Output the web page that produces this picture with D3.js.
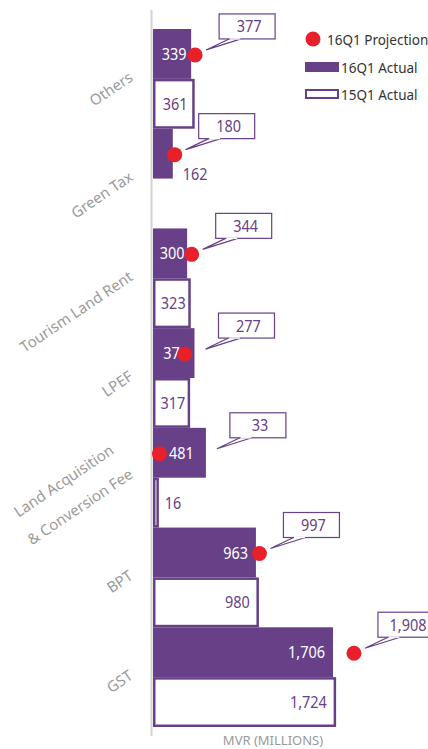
<!DOCTYPE html>
<html>
<head>
<meta charset="utf-8">
<script src="https://cdn.jsdelivr.net/npm/d3@7"></script>
<style>
  html, body { margin: 0; padding: 0; background: #fff; }
  svg { display: block; font-family: "Noto Sans", "Open Sans", sans-serif; }
</style>
</head>
<body>
<svg id="chart" width="428" height="749"></svg>
<script>
// ---- data ----
const categories = ["Others", "Green Tax", "Tourism Land Rent", "LPEF", "Land Acquisition & Conversion Fee", "BPT", "GST"];
const categoryLines = [["Others"], ["Green Tax"], ["Tourism Land Rent"], ["LPEF"], ["Land Acquisition", "& Conversion Fee"], ["BPT"], ["GST"]];
const actual16Q1 = [339, 162, 300, 371, 481, 963, 1706];
const actual15Q1 = [361, null, 323, 317, 16, 980, 1724];
const projection16Q1 = [377, 180, 344, 277, 33, 997, 1908];
const seriesNames = ["16Q1 Projection", "16Q1 Actual", "15Q1 Actual"];
const axisTitle = "MVR (MILLIONS)";

// ---- styles ----
const PURPLE = "#674087";
const RED = "#e8202a";
const GRAY = "#9a9a9a";
const NUM_SIZE = 17, NUM_SX = 0.85; // condensed numeric labels
const fmt = d3.format(",");

const svg = d3.select("#chart");

const x = d3.scaleLinear().domain([0, 1706]).range([156, 333]);
const X0 = 153; // left edge of bars (just right of the axis line)
const y = d3.scaleBand().domain(categories).range([29, 727]).paddingInner(0).paddingOuter(0);
const sub = d3.scaleBand().domain(["a16", "a15"]).range([0, y.bandwidth()]);

const rows = categories.map((c, i) => ({
  cat: c, lines: categoryLines[i], a16: actual16Q1[i], a15: actual15Q1[i], p16: projection16Q1[i]
}));

// helper: condensed number text; anchor: start|middle|end
function numText(parent, px, py, s, anchor, fill) {
  const t = parent.append("text")
    .attr("transform", `translate(${px},${py}) scale(${NUM_SX},1)`)
    .attr("text-anchor", anchor)
    .attr("font-size", NUM_SIZE)
    .attr("fill", fill)
    .text(s);
  return t;
}
function numWidth(s) {
  const t = svg.append("text").attr("font-size", NUM_SIZE).text(s);
  const w = t.node().getComputedTextLength() * NUM_SX;
  t.remove();
  return w;
}

// axis line
svg.append("line")
  .attr("x1", 151.5).attr("x2", 151.5)
  .attr("y1", 10).attr("y2", 736)
  .attr("stroke", "#d2d2d2").attr("stroke-width", 2);

// category labels
const ANG = -34;
rows.forEach(r => {
  const cy = y(r.cat) + y.bandwidth() / 2;
  const put = (tx, ty, s) => svg.append("text")
    .attr("transform", `translate(${tx},${ty}) rotate(${ANG})`)
    .attr("text-anchor", "end")
    .attr("fill", GRAY).attr("font-size", 15)
    .text(s);
  if (r.lines.length === 1) {
    put(134, cy + 1, r.lines[0]);
  } else {
    put(115, cy - 25, r.lines[0]);
    put(134, cy - 1, r.lines[1]);
  }
});

const g = svg.append("g");

// 15Q1 outlined bars
rows.filter(r => r.a15 != null).forEach(r => {
  const top = y(r.cat) + sub("a15");
  const h = sub.bandwidth();
  const w = Math.max(x(r.a15) - X0, 2);
  g.append("rect")
    .attr("x", X0 + 1.25).attr("y", top + 1.25)
    .attr("width", Math.max(w - 1.25, 0.5)).attr("height", h - 2.5)
    .attr("fill", "#fff").attr("stroke", PURPLE).attr("stroke-width", 2.5);
});

// 16Q1 filled bars
rows.forEach(r => {
  const top = y(r.cat) + sub("a16");
  g.append("rect")
    .attr("x", X0).attr("y", top)
    .attr("width", x(r.a16) - X0).attr("height", sub.bandwidth())
    .attr("fill", PURPLE);
});

// value labels
function valueLabel(r, key, filled) {
  const v = r[key];
  if (v == null) return;
  const top = y(r.cat) + sub(key);
  const cy = top + sub.bandwidth() / 2;
  const end = x(v);
  const width = end - X0;
  const s = fmt(v);
  const tw = numWidth(s);
  const fill = filled ? "#fff" : PURPLE;
  if (width >= tw + 5) {
    if (width < 60) {
      numText(g, (X0 + end) / 2 + 2, cy + 6, s, "middle", fill);
    } else {
      numText(g, end - 8, cy + 6, s, "end", fill);
    }
  } else {
    let lx = end + 7, ly = cy + 6;
    if (filled) {
      const dx = x(r.p16);
      if (dx + 8 > lx) { lx = dx + 8; ly = cy + 26; }
    }
    numText(g, lx, ly, s, "start", PURPLE);
  }
}

// projection callouts (box + tail)
rows.forEach(r => {
  const cy = y(r.cat) + sub("a16") + sub.bandwidth() / 2 + 1;
  const dx = x(r.p16);
  const ref = Math.max(dx, x(r.a16));
  const bx = ref + 24, by = cy - 41, bw = 56, bh = 25;
  const tipX = ref + 11, tipY = cy - 5;
  g.append("path")
    .attr("d", `M${bx + 10},${by + bh} L${tipX},${tipY} L${bx + 22},${by + bh}`)
    .attr("fill", "#fff").attr("stroke", PURPLE).attr("stroke-width", 1.2);
  g.append("rect")
    .attr("x", bx).attr("y", by).attr("width", bw).attr("height", bh)
    .attr("fill", "#fff").attr("stroke", PURPLE).attr("stroke-width", 1.2);
  g.append("line")
    .attr("x1", bx + 10.6).attr("x2", bx + 21.4)
    .attr("y1", by + bh).attr("y2", by + bh)
    .attr("stroke", "#fff").attr("stroke-width", 1.4);
  numText(g, bx + bw / 2 + 2, by + bh / 2 + 6, fmt(r.p16), "middle", PURPLE);
});

rows.forEach(r => { valueLabel(r, "a16", true); valueLabel(r, "a15", false); });

// projection dots
rows.forEach(r => {
  const cy = y(r.cat) + sub("a16") + sub.bandwidth() / 2 + 1;
  g.append("circle")
    .attr("cx", x(r.p16)).attr("cy", cy).attr("r", 7.5)
    .attr("fill", RED);
});

// legend
const lg = svg.append("g");
lg.append("circle").attr("cx", 313).attr("cy", 39).attr("r", 7.5).attr("fill", RED);
lg.append("text").attr("x", 327).attr("y", 45).attr("font-size", 13.5).attr("fill", "#333").text(seriesNames[0]);
lg.append("rect").attr("x", 305).attr("y", 62).attr("width", 34).attr("height", 10).attr("fill", PURPLE);
lg.append("text").attr("x", 341).attr("y", 73).attr("font-size", 13.5).attr("fill", "#333").text(seriesNames[1]);
lg.append("rect").attr("x", 306).attr("y", 90).attr("width", 32).attr("height", 8)
  .attr("fill", "#fff").attr("stroke", PURPLE).attr("stroke-width", 2);
lg.append("text").attr("x", 341).attr("y", 100).attr("font-size", 13.5).attr("fill", "#333").text(seriesNames[2]);

// axis title
svg.append("text")
  .attr("x", 273).attr("y", 745)
  .attr("text-anchor", "middle").attr("font-size", 13)
  .attr("fill", GRAY).text(axisTitle);
</script>
</body>
</html>
